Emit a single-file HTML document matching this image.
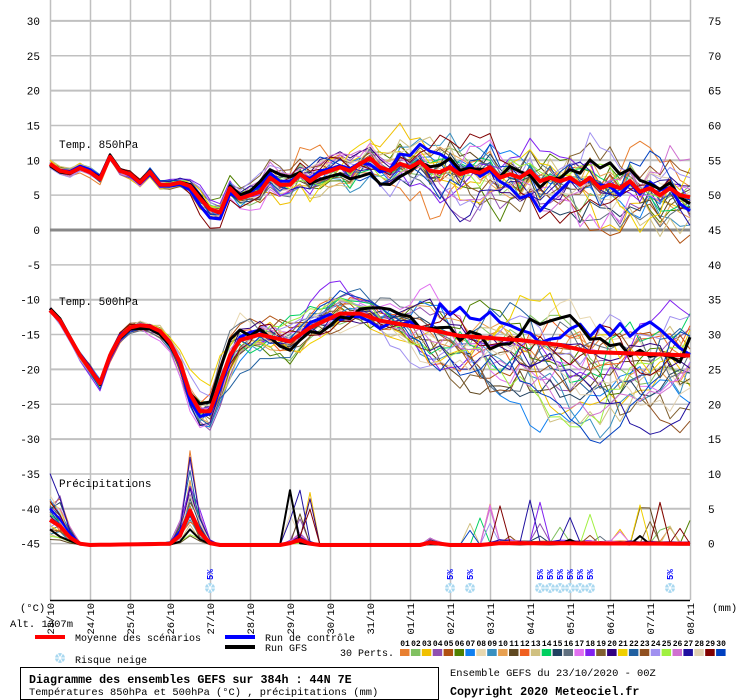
<!DOCTYPE html>
<html><head><meta charset="utf-8"><style>
body{margin:0;background:#fff;}
svg{display:block;font-family:"Liberation Mono","DejaVu Sans Mono",monospace;}
</style></head><body>
<svg id="s" width="740" height="700" viewBox="0 0 740 700" xmlns="http://www.w3.org/2000/svg">
<rect width="740" height="700" fill="#fff"/>
<g id="grid"></g><g id="ser"></g><g id="lab"></g>
<text x="59" y="148" font-size="11">Temp. 850hPa</text>
<text x="59" y="305" font-size="11">Temp. 500hPa</text>
<text x="59" y="487" font-size="11">Précipitations</text>
<text x="20" y="611" font-size="10.5">(°C)</text>
<text x="712" y="611" font-size="10.5">(mm)</text>
<text x="10" y="627" font-size="10.5">Alt. 1307m</text>
<rect x="35" y="635" width="30" height="4" fill="#f00"/>
<text x="75" y="641" font-size="10">Moyenne des scénarios</text>
<rect x="225" y="635" width="30" height="4" fill="#00f"/>
<text x="265" y="641" font-size="10">Run de contrôle</text>
<rect x="225" y="645" width="30" height="4" fill="#000"/>
<text x="265" y="651" font-size="10">Run GFS</text>
<text x="340" y="656" font-size="10">30 Perts.</text>
<text x="75" y="663" font-size="10">Risque neige</text>
<rect x="20.5" y="667.5" width="418" height="32" fill="none" stroke="#000"/>
<text x="29" y="683" font-size="11.7" font-weight="bold">Diagramme des ensembles GEFS sur 384h : 44N 7E</text>
<text x="29" y="695" font-size="10.4">Températures 850hPa et 500hPa (°C) , précipitations (mm)</text>
<text x="450" y="676" font-size="10.4">Ensemble GEFS du 23/10/2020 - 00Z</text>
<text x="450" y="695" font-size="11.7" font-weight="bold">Copyright 2020 Meteociel.fr</text>
</svg>
<script>
const NS="http://www.w3.org/2000/svg";
function el(p,t,a,txt){const e=document.createElementNS(NS,t);for(const k in a)e.setAttribute(k,a[k]);if(txt!==undefined)e.textContent=txt;p.appendChild(e);return e;}
const G=document.getElementById('grid'),S=document.getElementById('ser'),L=document.getElementById('lab');
const Y=v=>230-6.97*v, YP=v=>545-6.97*v;
for(let i=0;i<=16;i++){const x=50+i*40;el(G,'line',{x1:x+.5,y1:0,x2:x+.5,y2:600,stroke:'#c0c0c0','stroke-width':1.5});}
for(let v=30;v>=-45;v-=5){const y=Y(v);const th=(v%10===0)?2:1.5;
 el(G,'line',{x1:50,y1:y,x2:690,y2:y,stroke:v===0?'#888':'#c0c0c0','stroke-width':v===0?3:th});
 el(L,'text',{x:40,y:y+4,'font-size':11,'text-anchor':'end'},v);
 el(L,'text',{x:708,y:y+4,'font-size':11},v+45);}
el(G,'line',{x1:50,y1:600.5,x2:690,y2:600.5,stroke:'#000','stroke-width':1.5});
const dates=['23/10','24/10','25/10','26/10','27/10','28/10','29/10','30/10','31/10','01/11','02/11','03/11','04/11','05/11','06/11','07/11','08/11'];
dates.forEach((d,i)=>{const x=50+i*40+4;el(L,'text',{x:0,y:0,'font-size':10.5,transform:`translate(${x},${603}) rotate(-90)`,'text-anchor':'end'},d);});
const cols=['#e87f30','#80c060','#f0c000','#9050b0','#b05010','#508000','#1080f0','#e8d8b0','#3890c0','#e8a050','#604820','#f06020','#d0c080','#00d060','#204060','#607080','#e070f0','#8020f0','#806030','#300080','#f0d000','#2060a0','#905020','#a090f0','#a0f040','#d070d0','#2010a0','#e0d0b0','#800000','#0040c0'];
cols.forEach((c,i)=>{const x=400+i*10.9;el(L,'rect',{x:x,y:649,width:9.5,height:7,fill:c});
 el(L,'text',{x:x+5,y:646,'font-size':8,'font-weight':'bold','text-anchor':'middle'},String(i+1).padStart(2,'0'));});
function snow(x,y,r){const g=el(L,'g',{});el(g,'circle',{cx:x,cy:y,r:r,fill:'#a8d8f0'});
 for(let a=0;a<3;a++){const an=a*Math.PI/3;el(g,'line',{x1:x-r*Math.cos(an),y1:y-r*Math.sin(an),x2:x+r*Math.cos(an),y2:y+r*Math.sin(an),stroke:'#fff','stroke-width':1});}}
snow(60,658,5);
[210,450,470,540,550,560,570,580,590,670].forEach(x=>{snow(x,588,5);el(L,'text',{x:0,y:0,'font-size':9,fill:'#00f','font-weight':'bold',transform:`translate(${x+3},${580}) rotate(-90)`},'5%');});
let seed=12345;const rnd=()=>{seed=(seed*16807)%2147483647;return seed/2147483647;};
function interp(k,x){for(let i=0;i<k.length-1;i++){if(x<=k[i+1][0]){const t=(x-k[i][0])/(k[i+1][0]-k[i][0]);return k[i][1]+t*(k[i+1][1]-k[i][1]);}}return k[k.length-1][1];}
const m850=[[50,9.5],[60,8.5],[70,8.2],[80,8.9],[90,8.3],[100,7.3],[110,10.5],[120,8.5],[130,8],[140,6.8],[150,8.3],[160,6.5],[170,6.5],[180,6.8],[190,6.3],[200,4.5],[210,3],[220,2.5],[230,6],[240,4.5],[250,5],[260,5.5],[270,7.5],[280,6.5],[290,6.5],[300,8],[310,7],[320,8],[330,8.5],[340,9],[350,8.5],[360,9.5],[370,10.3],[380,9],[390,8.5],[400,9.5],[410,9],[420,9.8],[430,8.5],[440,8.3],[450,9],[460,8],[470,8.5],[480,8.2],[490,9],[500,7.5],[510,8],[520,7.5],[530,8.5],[540,7],[550,7.5],[560,7],[570,7.5],[580,6.5],[590,7.5],[600,6],[610,6.5],[620,6],[630,7],[640,5.5],[650,6],[660,5],[670,6],[680,5],[690,4.7]];
const s850=[[50,.4],[180,.5],[200,1.2],[240,1.2],[300,2],[420,2.5],[440,3.5],[690,3.5]];
const m500=[[50,-11.5],[60,-13],[70,-15.5],[80,-18],[100,-22],[115,-16],[130,-14],[145,-13.5],[160,-14.5],[175,-17],[185,-21],[195,-26],[210,-26],[220,-22],[235,-16],[260,-15],[290,-16],[310,-14],[340,-12],[360,-12],[380,-13],[420,-14],[460,-15.2],[520,-15.8],[560,-16.5],[590,-17.5],[690,-18]];
const s500=[[50,.3],[170,.8],[200,2],[240,2.5],[300,2.5],[400,2],[430,3.5],[690,4.5]];
const mP=[[50,4],[60,3],[70,1.2],[80,.2],[90,0],[170,0.2],[180,1.5],[190,5.5],[200,2],[210,.3],[220,0],[280,0],[290,.3],[300,.8],[310,.2],[320,0],[420,0],[430,.4],[440,.2],[450,0],[480,0],[500,.3],[690,.2]];
function member(mk,sk,amp,skew){const ph=[rnd()*6.28,rnd()*6.28,rnd()*6.28],a=[(rnd()-.5)*2,(rnd()-.5)*2,(rnd()-.5)*2];const low=skew&&rnd()<.3;const pts=[];
 for(let x=50;x<=690;x+=10){const n=a[0]*Math.sin(x/60+ph[0])+a[1]*Math.sin(x/27+ph[1])+.6*a[2]*Math.sin(x/13+ph[2])+(rnd()-.5)*.8;let v=interp(mk,x)+n*interp(sk,x)*amp;
 if(low&&x>400)v-=skew*Math.min(1,(x-400)/60)*(0.6+0.4*Math.sin(x/40+ph[0]));pts.push([x,v]);}return pts;}
function pl(pts,yf,c,w){el(S,'polyline',{points:pts.map(p=>p[0]+','+yf(p[1]).toFixed(1)).join(' '),fill:'none',stroke:c,'stroke-width':w,'stroke-linejoin':'round'});}
function precipMember(){const f=.2+rnd()*1.8;const pts=[];for(let x=50;x<=690;x+=10){let v=interp(mP,x)*f*(0.6+rnd()*.8);if(x>450&&rnd()<.05)v+=rnd()*6;if(x>280&&x<320&&rnd()<.12)v+=rnd()*8;pts.push([x,Math.max(0,v)]);}return pts;}
cols.forEach(c=>{pl(member(m850,s850,1,4),Y,c,1);pl(member(m500,s500,1,8),Y,c,1);pl(precipMember(),YP,c,1);});
pl(member(m850,s850,.5),Y,'#00f',3);pl(member(m850,s850,.5),Y,'#000',3);
pl(member(m500,s500,.7).map(p=>[p[0],p[0]>430?p[1]+2.5:p[1]]),Y,'#00f',3);
pl(member(m500,s500,.7).map(p=>[p[0],p[0]>430?p[1]+1.5:p[1]]),Y,'#000',3);
pl(precipMember(),YP,'#00f',2);pl(precipMember(),YP,'#000',2);
const mean=k=>{const p=[];for(let x=50;x<=690;x+=10)p.push([x,interp(k,x)]);return p;};
pl(mean(m850),Y,'#f00',4);pl(mean(m500),Y,'#f00',4);pl(mean(mP).map(p=>[p[0],p[1]*.9]),YP,'#f00',4);
</script>
</body></html>
